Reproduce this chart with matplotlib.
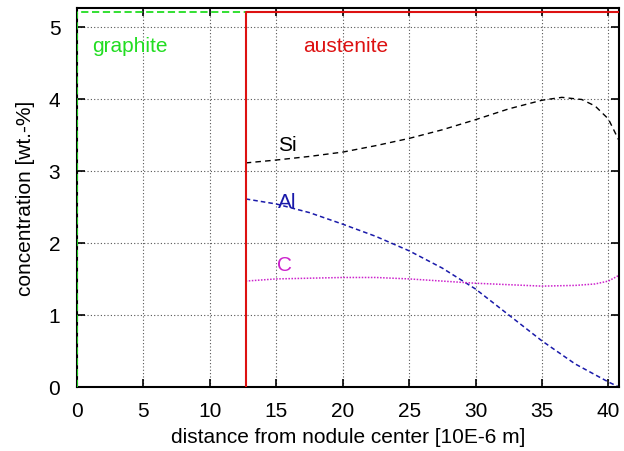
import numpy as np
import matplotlib.pyplot as plt

plt.rcParams['font.family'] = ['Liberation Sans', 'DejaVu Sans']

# values
x_si = [12.7, 15, 17.5, 20, 22.5, 25, 27.5, 30, 32.5, 35, 36.5, 38, 39, 40, 40.8]
y_si = [3.11, 3.15, 3.20, 3.26, 3.35, 3.45, 3.57, 3.71, 3.86, 3.98, 4.02, 3.99, 3.90, 3.72, 3.42]

x_al = [12.7, 15, 17.5, 20, 22.5, 25, 27.5, 30, 32.5, 35, 37.5, 40, 40.8]
y_al = [2.61, 2.54, 2.42, 2.26, 2.09, 1.89, 1.65, 1.36, 1.00, 0.64, 0.32, 0.07, 0.0]

x_c = [12.7, 15, 17.5, 20, 22.5, 25, 27.5, 30, 32.5, 35, 37.5, 39, 40, 40.8]
y_c = [1.47, 1.50, 1.51, 1.52, 1.52, 1.50, 1.47, 1.44, 1.42, 1.40, 1.41, 1.43, 1.47, 1.55]

x_interface = 12.7
x_end = 40.8
c_top = 5.2

fig = plt.figure(figsize=(6.24, 4.52), dpi=100)
ax = fig.add_axes([77/624, 1-388/452, (619-77)/624, (388-9)/452])

ax.plot([0, 0, x_interface], [0, c_top, c_top], color='#22dd22', ls=(0, (4, 2)), lw=1.3, zorder=3)
ax.plot([x_interface, x_interface, x_end], [0, c_top, c_top], color='#dd1111', lw=1.5, zorder=3)
ax.plot(x_si, y_si, color='black', ls=(0, (4, 3)), lw=1.0)
ax.plot(x_al, y_al, color='#1a1aaa', ls=(0, (3, 2)), lw=1.1)
ax.plot(x_c, y_c, color='#cc22cc', ls=(0, (1, 1)), lw=1.1)

ax.text(4, 4.74, 'graphite', color='#22dd22', fontsize=15, ha='center', va='center')
ax.text(20.2, 4.74, 'austenite', color='#dd1111', fontsize=15, ha='center', va='center')
ax.text(15.8, 3.36, 'Si', color='black', fontsize=15, ha='center', va='center')
ax.text(15.8, 2.57, 'Al', color='#1a1aaa', fontsize=15, ha='center', va='center')
ax.text(15.6, 1.70, 'C', color='#cc22cc', fontsize=15, ha='center', va='center')

ax.set_xlim(0, 40.8)
ax.set_ylim(0, 5.26)
ax.set_xticks(np.arange(0, 41, 5))
ax.set_yticks(np.arange(0, 6, 1))
ax.grid(True, color='#555555', ls=(0, (1, 2)), lw=0.8)
ax.tick_params(direction='in', length=6, width=1.2, top=True, right=True, labelsize=15)
ax.tick_params(axis='x', pad=10)
ax.tick_params(axis='y', pad=12)
for s in ax.spines.values():
    s.set_linewidth(1.5)

ax.set_xlabel('distance from nodule center [10E-6 m]', fontsize=15, labelpad=5)
ax.set_ylabel('concentration [wt.-%]', fontsize=15, labelpad=10)

fig.savefig('out.png', dpi=100)
